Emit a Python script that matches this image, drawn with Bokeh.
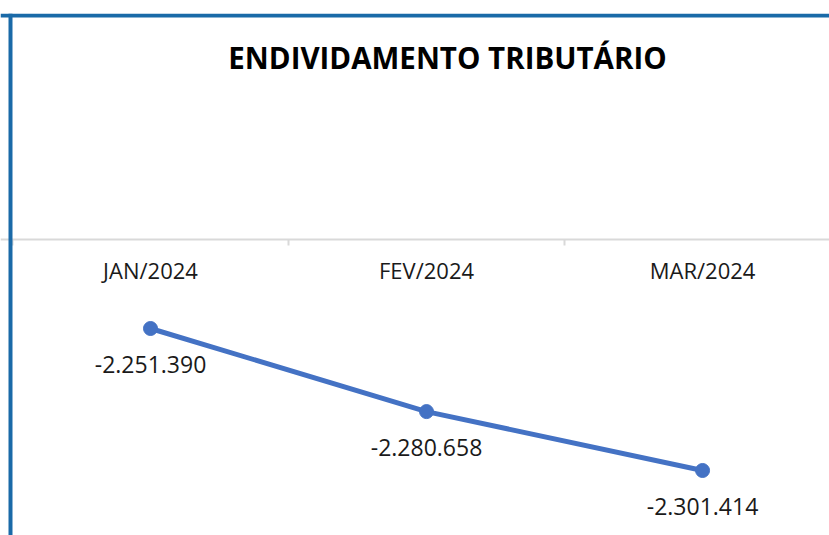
from bokeh.plotting import figure
from bokeh.models import Range1d, LinearAxis, FixedTicker, Span, Label, ColumnDataSource
from bokeh.core.properties import value
from bokeh.embed import file_html
from bokeh.resources import INLINE

months = ["JAN/2024", "FEV/2024", "MAR/2024"]
debt = [-2251390, -2280658, -2301414]
title_text = "ENDIVIDAMENTO TRIBUTÁRIO"

FONT = "Open Sans"
x_pos = [i + 0.5 for i in range(len(months))]
labels = [f"{v:,}".replace(",", ".") for v in debt]
src = ColumnDataSource(dict(x=x_pos, y=debt, lab=labels))

p = figure(width=829, height=535, output_backend="svg", toolbar_location=None,
           x_range=Range1d(-0.04348, 2.960), y_range=Range1d(-2324313, -2140420),
           x_axis_location=None, y_axis_location=None,
           min_border_left=0, min_border_right=0, min_border_bottom=0, min_border_top=13)
p.outline_line_color = None
p.xgrid.visible = False
p.ygrid.visible = False
p.background_fill_color = "white"
p.border_fill_color = "white"

ax = LinearAxis(fixed_location=-2220000,
                ticker=FixedTicker(ticks=x_pos, minor_ticks=[0, 1, 2, 3]),
                major_label_overrides={x: m for x, m in zip(x_pos, months)})
ax.axis_line_color = "#d9d9d9"
ax.axis_line_width = 2
ax.major_tick_line_color = None
ax.minor_tick_line_color = "#d9d9d9"
ax.minor_tick_line_width = 2
ax.minor_tick_out = 6
ax.minor_tick_in = 0
ax.major_label_standoff = 10
ax.major_label_text_font = FONT
ax.major_label_text_font_size = "22px"
ax.major_label_text_color = "#1a1a1a"
p.add_layout(ax, "below")

p.line("x", "y", source=src, line_color="#4472C4", line_width=5)
p.scatter("x", "y", source=src, size=14, fill_color="#4472C4", line_color="#4472C4")
p.text("x", "y", text="lab", source=src, text_align="center", text_baseline="middle",
       y_offset=36, text_font=value(FONT), text_font_size="23px", text_color="#1a1a1a")

p.add_layout(Label(x=1.576, y=-2155921, text=title_text, text_align="center",
                   text_baseline="middle", text_font=FONT, text_font_size="29.5px",
                   text_font_style="bold", text_color="#000000"))

blue = "#1a6aa8"
p.add_layout(Span(location=-0.00725, dimension="height", line_color=blue, line_width=4))
p.add_layout(Span(location=-2141125, dimension="width", line_color=blue, line_width=4))

open("out.html", "w").write(file_html(p, INLINE))
